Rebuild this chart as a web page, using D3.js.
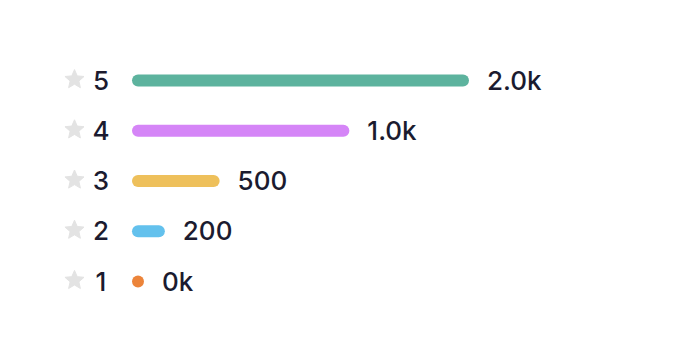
<!DOCTYPE html>
<html>
<head>
<meta charset="utf-8">
<script src="https://cdn.jsdelivr.net/npm/d3@7"></script>
<style>
  html, body { margin: 0; padding: 0; background: #fff; }
  svg text { font-family: Inter, "Noto Sans", sans-serif; }
</style>
</head>
<body>
<div id="chart"></div>
<script>
const ratings = ["5", "4", "3", "2", "1"];
// bar lengths
const counts = [2000, 1290, 520, 195, 0];
const countLabels = ["2.0k", "1.0k", "500", "200", "0k"];
const colors = ["#5db39e", "#d585f7", "#eec05b", "#63c1ed", "#ec843a"];

const width = 674, height = 362;
const barH = 12;

const svg = d3.select("#chart").append("svg")
  .attr("width", width)
  .attr("height", height);

const y = d3.scaleBand()
  .domain(ratings)
  .range([55.5, 306.5])
  .paddingInner(0);

const x = d3.scaleLinear()
  .domain([0, 2000])
  .range([0, 337]);

const barX = 132;
const barW = (v) => Math.max(barH, x(v));

const rows = svg.selectAll("g.row")
  .data(ratings.map((r, i) => ({ r, v: counts[i], label: countLabels[i], color: colors[i] })))
  .join("g")
  .attr("class", "row")
  .attr("transform", (d) => `translate(0,${y(d.r) + y.bandwidth() / 2})`);

// chunky five-point star
const starPts = d3.range(10).map((i) => [i * Math.PI / 5, i % 2 ? 4.6 : 10]);
const starPath = d3.lineRadial().curve(d3.curveLinearClosed)(starPts);
rows.append("path")
  .attr("d", starPath)
  .attr("transform", "translate(74.5,-1)")
  .attr("fill", "#e3e3e3")
  .attr("stroke", "#e3e3e3")
  .attr("stroke-width", 1)
  .attr("stroke-linejoin", "round");

rows.append("text")
  .attr("x", 101)
  .attr("y", 0)
  .attr("dy", "0.35em")
  .attr("text-anchor", "middle")
  .attr("font-size", 26)
  .attr("font-weight", 500)
  .attr("fill", "#1b1b2f")
  .text((d) => d.r);

rows.append("rect")
  .attr("x", barX)
  .attr("y", -barH / 2)
  .attr("height", barH)
  .attr("width", (d) => barW(d.v))
  .attr("rx", barH / 2)
  .attr("fill", (d) => d.color);

rows.append("text")
  .attr("x", (d) => barX + barW(d.v) + 18)
  .attr("y", 0)
  .attr("dy", "0.35em")
  .attr("font-size", 26)
  .attr("font-weight", 500)
  .attr("fill", "#1b1b2f")
  .text((d) => d.label);
</script>
</body>
</html>
